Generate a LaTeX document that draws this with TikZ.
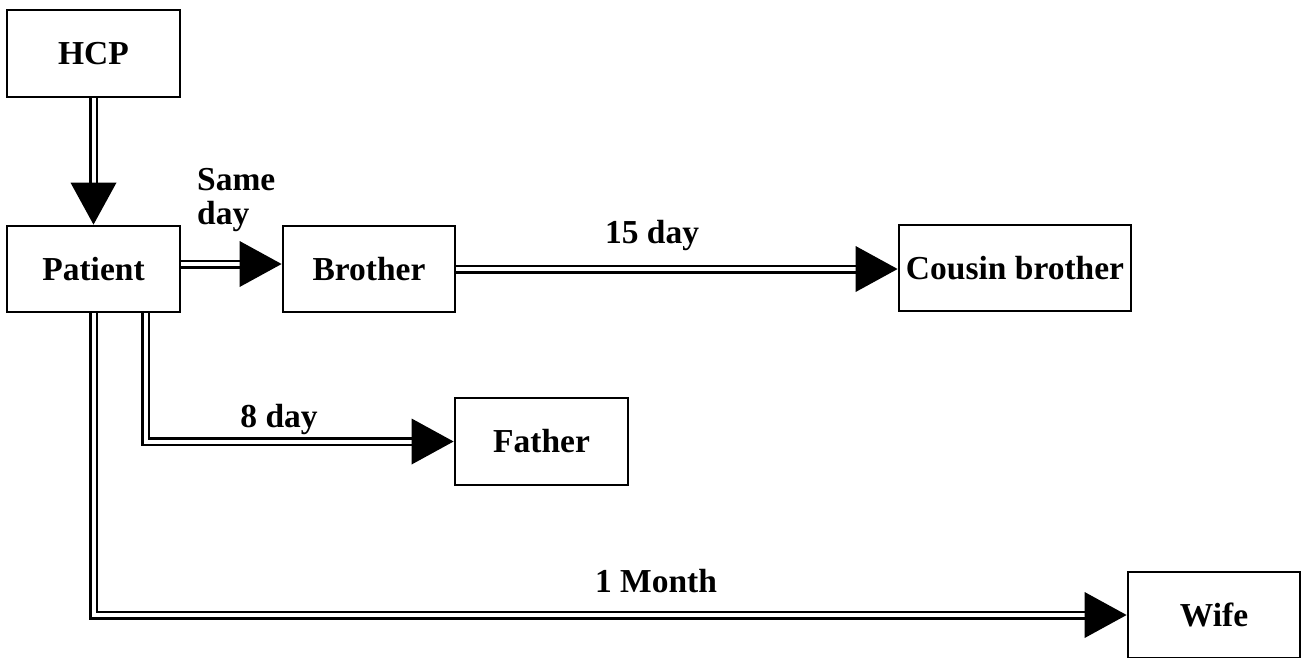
\documentclass[tikz,border=0pt]{standalone}
\usepackage{fontspec}
\setmainfont{Liberation Serif}
\usetikzlibrary{decorations.markings}
\begin{document}
\begin{tikzpicture}[x=1pt,y=-1pt,
  box/.style={draw, line width=2.8pt, font=\bfseries\fontsize{33.5}{34}\selectfont, inner sep=0pt},
  lbl/.style={font=\bfseries\fontsize{33.5}{34}\selectfont, inner sep=0pt},
  link/.style={draw, line width=2.5pt, double=white, double distance=4pt, shorten >=30pt,
    postaction={decorate, decoration={markings,
      mark=at position 1 with {\fill[shorten >=0pt] (-42pt,23pt) -- (0pt,0pt) -- (-42pt,-23pt) -- cycle;}}}},
]
\clip (0,0) rectangle (1305,657);
\useasboundingbox (0,0) rectangle (1305,657);

% boxes
\node[box, minimum width=173pt, minimum height=87pt] (hcp) at (93.5,53.5) {HCP};
\node[box, minimum width=173pt, minimum height=86pt] (patient) at (93.5,269) {Patient};
\node[box, minimum width=172pt, minimum height=86pt] (brother) at (369,269) {Brother};
\node[box, minimum width=232pt, minimum height=86pt] (cousin) at (1015,268) {Cousin brother};
\node[box, minimum width=173pt, minimum height=87pt] (father) at (541.5,441.5) {Father};
\node[box, minimum width=172pt, minimum height=86pt] (wife) at (1214,615) {Wife};

% connectors
\draw[link] (hcp) -- (patient);
\draw[link] ([yshift=5pt]patient.east) -- ([yshift=5pt]brother.west);
\draw[link] (brother.east) -- (brother.east -| cousin.west);
\draw[link] ([xshift=52pt]patient.south) |- (father.west);
\draw[link] (patient.south) |- (wife.west);

% time labels
\node[lbl, anchor=north west, align=left] (sameday) at (197,168) {Same\\day};
\node[lbl, anchor=base] (l15) at (652,243) {15 day};
\node[lbl, anchor=base] (l8) at (279,427) {8 day};
\node[lbl, anchor=base] (l1m) at (656,592) {1 Month};
\end{tikzpicture}
\end{document}
